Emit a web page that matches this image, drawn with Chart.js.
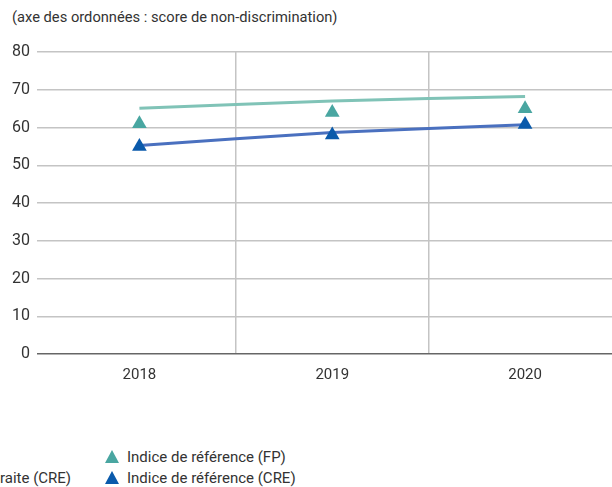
<!DOCTYPE html>
<html>
<head>
<meta charset="utf-8">
<script src="https://cdn.jsdelivr.net/npm/chart.js@4/dist/chart.umd.min.js"></script>
<style>
    body { margin: 0; width: 612px; height: 487px; overflow: hidden; background: #fff; position: relative; font-family: Roboto, sans-serif; color: #333; }
    #title { position: absolute; left: 12px; top: 8px; font-size: 14.7px; }
    #chartBox { position: absolute; left: 0; top: 0; }
    #legend { position: absolute; left: 0; top: 448px; font-size: 15px; }
    .row { position: absolute; white-space: nowrap; }
    .tri { display: inline-block; width: 0; height: 0; border-left: 7px solid transparent; border-right: 7px solid transparent; border-bottom: 13px solid; vertical-align: -1px; margin-right: 8px; }
</style>
</head>
<body>
<div id="title">(axe des ordonnées : score de non-discrimination)</div>
<div id="chartBox"><canvas id="scoreChart" width="630" height="400"></canvas></div>
<div id="legend"></div>
<script>
var years = ["2018", "2019", "2020"];
var indiceFP = [61, 64, 65];
var indiceCRE = [55, 58, 60.8];
var tendanceFP = [65.1, 67.05, 68.2];
var tendanceCRE = [55.2, 58.7, 60.7];
var yTicks = [0, 10, 20, 30, 40, 50, 60, 70, 80];

function setChart() {
    var ctx = document.getElementById("scoreChart").getContext("2d");
    Chart.defaults.font.family = "Roboto, sans-serif";
    Chart.defaults.font.size = 15;
    Chart.defaults.color = "#333";

    new Chart(ctx, {
        type: "line",
        data: {
            labels: years,
            datasets: [{
                label: "Indice de référence (FP)",
                data: indiceFP,
                showLine: false,
                pointStyle: "triangle",
                pointRadius: 8.5,
                pointBackgroundColor: "#49a6a1",
                pointBorderWidth: 0
            }, {
                label: "Indice de référence (CRE)",
                data: indiceCRE,
                showLine: false,
                pointStyle: "triangle",
                pointRadius: 8.5,
                pointBackgroundColor: "#0a5aab",
                pointBorderWidth: 0
            }, {
                label: "Tendance (FP)",
                data: tendanceFP,
                borderColor: "#80c3b7",
                borderWidth: 3,
                pointRadius: 0,
                tension: 0.2
            }, {
                label: "Tendance retraite (CRE)",
                data: tendanceCRE,
                borderColor: "#4a70bf",
                borderWidth: 3,
                pointRadius: 0,
                tension: 0.2
            }]
        },
        options: {
            responsive: false,
            animation: false,
            layout: { padding: { top: 52, left: 0, right: 0, bottom: 0 } },
            plugins: {
                legend: { display: false },
                tooltip: { enabled: false }
            },
            scales: {
                x: {
                    offset: true,
                    border: { display: false },
                    grid: {
                        offset: true,
                        drawTicks: false,
                        color: function (c) {
                            return (c.index === 0 || c.index === years.length) ? "rgba(0,0,0,0)" : "#c4c4c4";
                        },
                        lineWidth: 1.5
                    },
                    ticks: { padding: 12 },
                    afterFit: function (scale) { scale.height = 46; }
                },
                y: {
                    min: 0,
                    max: 80,
                    border: { display: false },
                    afterBuildTicks: function (scale) {
                        scale.ticks = yTicks.map(function (v) { return { value: v }; });
                    },
                    grid: {
                        tickLength: 6,
                        color: function (c) {
                            return c.tick && c.tick.value === 0 ? "#666" : "#c4c4c4";
                        },
                        lineWidth: 1.5
                    },
                    ticks: { padding: 7, font: { size: 16 } },
                    afterFit: function (scale) { scale.width = 43; }
                }
            }
        }
    });
}

function setLegend() {
    var legend = document.getElementById("legend");
    var rows = [
        { text: "raite (CRE)", left: 0, top: 21, color: null },
        { text: "Indice de référence (FP)", left: 105, top: 0, color: "#49a6a1" },
        { text: "Indice de référence (CRE)", left: 105, top: 21, color: "#0a5aab" }
    ];
    for (var i = 0; i < rows.length; i++) {
        var div = document.createElement("div");
        div.className = "row";
        div.style.left = rows[i].left + "px";
        div.style.top = rows[i].top + "px";
        if (rows[i].color) {
            var tri = document.createElement("span");
            tri.className = "tri";
            tri.style.borderBottomColor = rows[i].color;
            div.appendChild(tri);
        }
        div.appendChild(document.createTextNode(rows[i].text));
        legend.appendChild(div);
    }
}

setChart();
setLegend();
</script>
</body>
</html>
